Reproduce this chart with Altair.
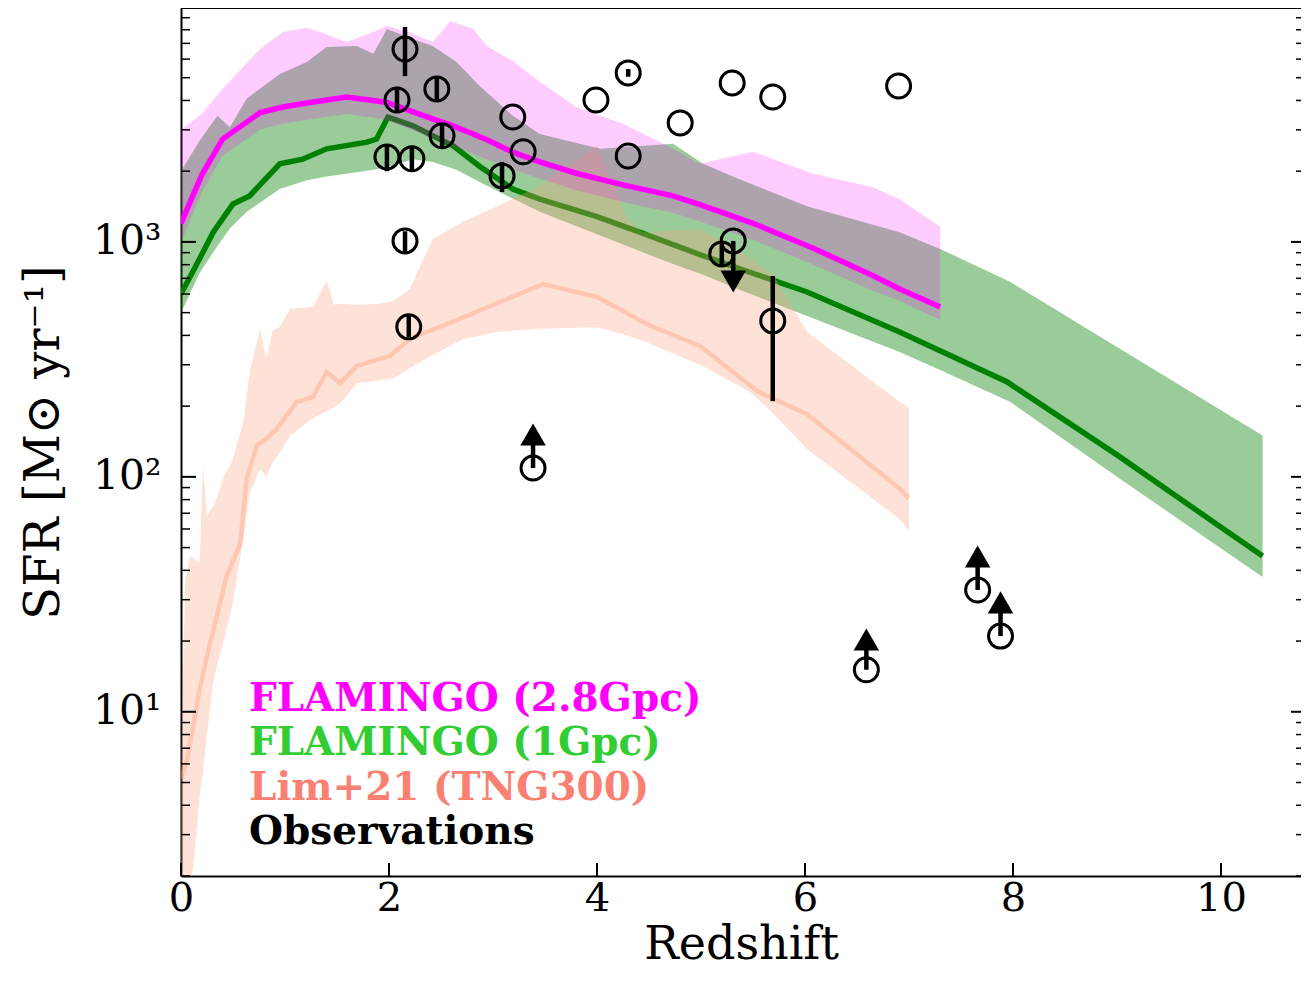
import altair as alt
import pandas as pd
import numpy as np

# ---------------- data ----------------
# FLAMINGO (1Gpc) median
g_med_z = [0, 0.18, 0.31, 0.5, 0.66, 0.95, 1.17, 1.4, 1.79, 1.88, 1.99, 2.23, 2.62, 2.87, 3.19, 3.45,
           4.0, 4.41, 5.0, 5.38, 6.02, 6.91, 7.94, 9.0, 10.0, 10.4]
g_med = [600, 850, 1100, 1450, 1570, 2150, 2250, 2490, 2660, 2740, 3400, 3120, 2560, 2100, 1680, 1520,
         1280, 1100, 880, 767, 612, 414, 254, 124, 61, 46]
# FLAMINGO (1Gpc) scatter band
g_band_z = [0, 0.18, 0.35, 0.47, 0.63, 0.95, 1.21, 1.40, 1.69, 1.85, 1.98, 2.23, 2.42, 2.65, 2.87, 3.19,
            3.45, 4.03, 4.73, 5.02, 5.37, 6.02, 6.91, 7.3, 7.97, 9.0, 10.4]
g_band_hi = [2000, 2700, 3440, 3080, 4070, 5190, 5830, 6760, 6830, 6320, 8050, 7300, 6830, 5830, 4620, 3440,
             2880, 2490, 2620, 2150, 1850, 1420, 1100, 934, 676, 357, 150]
g_band_lo = [500, 740, 960, 1140, 1342, 1680, 1830, 1900, 1980, 2030, 2080, 2250, 2190, 2030, 1800, 1530,
             1343, 1065, 805, 725, 625, 484, 340, 285, 209, 100, 37.5]

# FLAMINGO (2.8Gpc) median and band
m_z = [0, 0.2, 0.4, 0.76, 0.98, 1.21, 1.34, 1.59, 1.85, 1.98, 2.2, 2.42, 2.59, 2.81, 2.94, 3.19, 3.45,
       3.8, 4.25, 4.73, 4.99, 5.5, 6.08, 6.65, 6.91, 7.3]
m_med = [1200, 1930, 2740, 3550, 3750, 3900, 3980, 4140, 4000, 3920, 3620, 3340, 3150, 2880, 2720, 2410, 2190,
         1960, 1750, 1570, 1440, 1200, 940, 720, 631, 528]
m_hi = [3000, 3500, 4480, 6620, 7830, 8150, 7830, 7100, 7830, 8300, 7800, 7100, 8720, 8060, 6830, 5890, 4800,
        3750, 3180, 2500, 2150, 2420, 1950, 1710, 1520, 1160]
m_lo = [1000, 1620, 2330, 3000, 3180, 3300, 3380, 3500, 3380, 3300, 3020, 2750, 2580, 2370, 2250, 2030, 1860,
        1660, 1480, 1330, 1220, 1020, 800, 620, 560, 465]

# Lim+21 (TNG300) median
p_med_z = [0, 0.06, 0.18, 0.25, 0.375, 0.44, 0.57, 0.63, 0.73, 0.82, 0.92, 1.11, 1.27, 1.40, 1.53, 1.69,
           2.01, 2.2, 2.68, 3.07, 3.48, 4.0, 4.51, 4.99, 5.55, 6.02, 6.91, 7.0]
p_med = [5.2, 6.3, 12.5, 17.3, 29, 38, 52, 98, 136, 145, 160, 208, 219, 280, 250, 297,
         327, 387, 470, 555, 662, 583, 440, 361, 230, 185, 89, 81]
# Lim+21 (TNG300) band
p_band_z = [0, 0.04, 0.09, 0.12, 0.18, 0.21, 0.25, 0.31, 0.35, 0.41, 0.49, 0.6, 0.66, 0.76, 0.82, 0.88, 0.95,
            1.05, 1.27, 1.40, 1.47, 1.53, 1.69, 1.91, 2.04, 2.2, 2.42, 2.71, 3.04, 3.45, 4.0, 4.29, 4.44,
            4.99, 5.47, 5.7, 6.02, 6.91, 7.0]
p_band_hi = [6, 36, 46, 45, 43, 112, 68, 75, 83, 100, 116, 171, 280, 427, 318, 420, 434,
             519, 529, 682, 540, 545, 540, 545, 560, 631, 1030, 1216, 1420, 1730, 2570, 1250, 1100,
             1136, 860, 716, 414, 209, 198]
p_band_lo = [1.2, 1.3, 1.8, 2.2, 4.4, 5.5, 8, 13.4, 16, 20, 28, 54.6, 85, 108, 100, 115, 127,
             150, 178, 190, 198, 205, 250, 258, 262, 290, 330, 385, 414, 427, 433, 400, 380,
             300, 230, 185, 131, 66, 59]

# Observations
obs_z = [2.154, 2.077, 2.46, 1.98, 2.22, 2.51, 2.154, 2.19, 3.087, 3.19, 3.29, 3.99, 4.30, 4.30, 4.80,
         5.30, 5.69, 6.90, 5.20, 5.69, 5.31, 3.385, 6.59, 7.66, 7.88]
obs_sfr = [6620, 4020, 4480, 2300, 2260, 2830, 1010, 435, 1910, 3400, 2420, 4020, 5240, 2320, 3210,
           4750, 4140, 4610, 889, 461, 1010, 109, 15.1, 33, 21]
err_z = [2.154, 2.077, 2.46, 1.98, 2.22, 2.51, 2.154, 2.19, 3.087, 4.30, 5.20, 5.69]
err_lo = [5080, 3540, 3940, 2000, 2000, 2490, 906, 394, 1630, 5050, 790, 210]
err_hi = [8220, 4570, 5080, 2560, 2540, 3180, 1110, 489, 2190, 5440, 1000, 716]
# lower limits (arrow up) and upper limits (arrow down)
lolim_z = [3.385, 6.59, 7.66, 7.88]
lolim_sfr = [109, 15.1, 33, 21]
lolim_tip = [168, 22.5, 50.8, 32.4]
uplim_z = [5.31]
uplim_sfr = [1010]
uplim_tip = [612]

legend_labels = ["FLAMINGO (2.8Gpc)", "FLAMINGO (1Gpc)", "Lim+21 (TNG300)", "Observations"]
legend_colors = ["#ff00ff", "#32cd32", "#fa8072", "#000000"]

x_ticks = [0, 2, 4, 6, 8, 10]
y_major = [10, 100, 1000]
y_minor = [m * d for d in (1, 10, 100, 1000) for m in range(2, 10)]

# ---------------- layout ----------------
W, H = 1120, 868
XMAX = W / 104.0
YMIN, YMAX = 2.0, 9900.0
PPD = H / (np.log10(YMAX) - np.log10(YMIN))  # pixels per decade

xs = alt.Scale(domain=[0, XMAX], nice=False, zero=False)
ys = alt.Scale(type="log", domain=[YMIN, YMAX], nice=False)
FONT = "DejaVu Serif"

xaxis = alt.Axis(values=x_ticks, format="d", title="Redshift", grid=False, ticks=False, tickSize=0,
                 domainColor="black", domainWidth=2, labelFont=FONT, labelFontSize=40,
                 labelColor="black", labelPadding=2, labelFlush=False, labelOverlap=False,
                 titleFont=FONT, titleFontSize=46, titleFontWeight="normal", titleColor="black",
                 titlePadding=4)
yaxis = alt.Axis(values=y_major, grid=False, ticks=False, tickSize=0, domainColor="black", domainWidth=2,
                 labelExpr="round(log(datum.value)/LN10) == 1 ? '10¹' : (round(log(datum.value)/LN10) == 2 ? '10²' : '10³')",
                 labelFont=FONT, labelFontSize=41, labelColor="black", labelPadding=20,
                 labelOverlap=False, labelFlush=False,
                 title="SFR [M⊙ yr⁻¹]", titleFont=FONT, titleFontSize=48, titleFontWeight="normal",
                 titleColor="black", titlePadding=24)


def X(f):
    return alt.X(f, type="quantitative", scale=xs, axis=xaxis)


def Y(f):
    return alt.Y(f, type="quantitative", scale=ys, axis=yaxis)


g_line_df = pd.DataFrame({"z": g_med_z, "v": g_med})
g_band_df = pd.DataFrame({"z": g_band_z, "lo": g_band_lo, "hi": g_band_hi})
m_df = pd.DataFrame({"z": m_z, "v": m_med, "lo": m_lo, "hi": m_hi})
p_line_df = pd.DataFrame({"z": p_med_z, "v": p_med})
p_band_df = pd.DataFrame({"z": p_band_z, "lo": p_band_lo, "hi": p_band_hi})
obs_df = pd.DataFrame({"z": obs_z, "v": obs_sfr})
err_df = pd.DataFrame({"z": err_z, "lo": err_lo, "hi": err_hi})

lo_df = pd.DataFrame({"z": lolim_z, "v": lolim_sfr, "tip": lolim_tip})
lo_df["shaft"] = lo_df["tip"] / 10 ** (15 / PPD)
lo_df["head"] = lo_df["tip"] / 10 ** (10.5 / PPD)
up_df = pd.DataFrame({"z": uplim_z, "v": uplim_sfr, "tip": uplim_tip})
up_df["shaft"] = up_df["tip"] * 10 ** (15 / PPD)
up_df["head"] = up_df["tip"] * 10 ** (10.5 / PPD)

g_band = alt.Chart(g_band_df).mark_area(color="green", opacity=0.4, clip=True).encode(
    x=X("z"), y=Y("lo"), y2=alt.Y2("hi"))
g_line = alt.Chart(g_line_df).mark_line(color="green", strokeWidth=5.5, clip=True).encode(
    x=X("z"), y=Y("v"))
p_band = alt.Chart(p_band_df).mark_area(color="lightsalmon", opacity=0.3, clip=True).encode(
    x=X("z"), y=Y("lo"), y2=alt.Y2("hi"))
p_line = alt.Chart(p_line_df).mark_line(color="lightsalmon", opacity=0.4, strokeWidth=4.5, clip=True).encode(
    x=X("z"), y=Y("v"))
m_band = alt.Chart(m_df).mark_area(color="#ff00ff", opacity=0.2, clip=True).encode(
    x=X("z"), y=Y("lo"), y2=alt.Y2("hi"))
m_line = alt.Chart(m_df).mark_line(color="#ff00ff", strokeWidth=5.5, clip=True).encode(
    x=X("z"), y=Y("v"))

errbars = alt.Chart(err_df).mark_rule(color="black", strokeWidth=4.5).encode(
    x=X("z"), y=Y("lo"), y2=alt.Y2("hi"))
circles = alt.Chart(obs_df).mark_point(shape="circle", filled=False, size=576, strokeWidth=3,
                                       color="black", opacity=1).encode(x=X("z"), y=Y("v"))
lo_shaft = alt.Chart(lo_df).mark_rule(color="black", strokeWidth=4.5).encode(
    x=X("z"), y=Y("v"), y2=alt.Y2("shaft"))
lo_head = alt.Chart(lo_df).mark_point(shape="triangle-up", filled=True, size=650, color="black",
                                      opacity=1, strokeWidth=0).encode(x=X("z"), y=Y("head"))
up_shaft = alt.Chart(up_df).mark_rule(color="black", strokeWidth=4.5).encode(
    x=X("z"), y=Y("v"), y2=alt.Y2("shaft"))
up_head = alt.Chart(up_df).mark_point(shape="triangle-down", filled=True, size=650, color="black",
                                      opacity=1, strokeWidth=0).encode(x=X("z"), y=Y("head"))

# inward ticks (matplotlib style)
ymaj_df = pd.DataFrame({"v": y_major})
ymin_df = pd.DataFrame({"v": y_minor})
xt_df = pd.DataFrame({"z": x_ticks})
tick_l_maj = alt.Chart(ymaj_df).mark_rule(color="black", strokeWidth=2).encode(
    y=Y("v"), x=alt.value(0), x2=alt.value(15))
tick_l_min = alt.Chart(ymin_df).mark_rule(color="black", strokeWidth=1.5).encode(
    y=Y("v"), x=alt.value(0), x2=alt.value(9))
tick_r_maj = alt.Chart(ymaj_df).mark_rule(color="black", strokeWidth=2).encode(
    y=Y("v"), x=alt.value(W - 10), x2=alt.value(W))
tick_r_min = alt.Chart(ymin_df).mark_rule(color="black", strokeWidth=1.5).encode(
    y=Y("v"), x=alt.value(W - 5), x2=alt.value(W))
tick_x = alt.Chart(xt_df).mark_rule(color="black", strokeWidth=2).encode(
    x=X("z"), y=alt.value(H), y2=alt.value(H - 13))
top_spine = alt.Chart(pd.DataFrame({"a": [0]})).mark_rule(color="black", strokeWidth=2).encode(
    x=alt.value(0), x2=alt.value(W), y=alt.value(0))

leg_df = pd.DataFrame({"t": legend_labels, "c": legend_colors, "i": list(range(len(legend_labels)))})
legend = alt.Chart(leg_df).transform_calculate(ypx="691 + datum.i * 44.3").mark_text(
    align="left", baseline="middle", font=FONT, fontWeight="bold", fontSize=39).encode(
    x=alt.value(68), y=alt.Y("ypx:Q", scale=None, axis=None), text="t:N",
    color=alt.Color("c:N", scale=None))

chart = alt.layer(
    g_band, g_line, p_band, p_line, m_band, m_line,
    errbars, circles, lo_shaft, lo_head, up_shaft, up_head,
    tick_l_maj, tick_l_min, tick_r_maj, tick_r_min, tick_x, top_spine, legend
).properties(
    width=W, height=H,
    padding={"left": 173, "top": 0, "right": 0, "bottom": 97},
    autosize=alt.AutoSizeParams(type="none"),
    background="white",
).configure_view(stroke=None)

chart.save("out.html", embed_options={"renderer": "svg", "actions": False})
